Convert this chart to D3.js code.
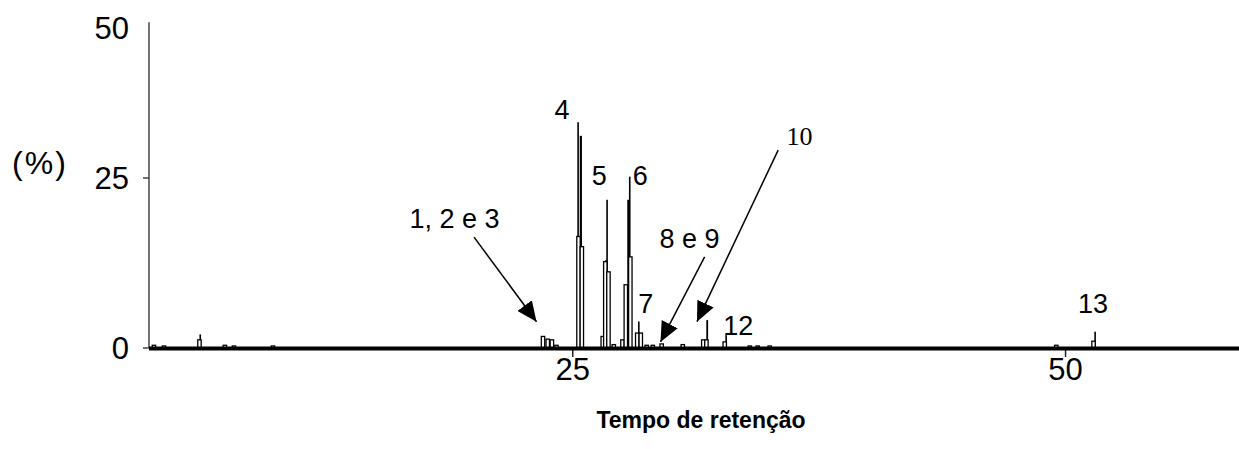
<!DOCTYPE html>
<html><head><meta charset="utf-8">
<script src="https://cdn.jsdelivr.net/npm/d3@7"></script>
<style>html,body{margin:0;padding:0;background:#fff}svg{display:block}</style>
</head><body><svg id="c" width="1239" height="449"></svg>
<script>
// ---- data ----
const xTicks = [25, 50];
const yTicks = [0, 25, 50];
const yAxisLabel = "(%)";
const xAxisLabel = "Tempo de retenção";
// outlined bars of the chromatogram (retention time, %)
const barTimes  = [3.75, 4.26, 6.06, 7.35, 7.81, 9.79,
  23.49, 23.73, 23.94, 24.17,
  25.29, 25.46,
  26.52, 26.65, 26.81, 27.08,
  27.52, 27.69, 27.92,
  28.27, 28.45, 28.75, 29.06, 29.51, 30.58,
  31.62, 31.78, 32.71, 33.98, 34.38, 34.99,
  49.53, 51.42];
const barValues = [0.4, 0.3, 1.2, 0.4, 0.3, 0.3,
  1.7, 1.3, 1.2, 0.4,
  16.4, 14.9,
  1.7, 12.7, 11.2, 0.5,
  1.2, 9.3, 13.4,
  2.2, 2.2, 0.4, 0.4, 0.6, 0.5,
  1.2, 1.2, 0.9, 0.3, 0.3, 0.3,
  0.4, 1.0];
// narrow dark spikes (peak apexes)
const spikeTimes  = [6.1, 25.27, 25.41, 26.74, 26.69, 27.83, 27.89, 28.35, 31.82, 32.78, 51.5];
const spikeValues = [2.0, 33.2, 31.2, 21.8, 12.9, 21.8, 25.2, 3.9, 4.1, 1.9, 2.4];
const spikeWidths = [1.6, 1.6, 2.2, 1.6, 2.2, 2.6, 1.6, 1.6, 1.8, 1.6, 1.6];
// peak labels
const peakLabels = ["4", "5", "6", "7", "8 e 9", "12", "13", "1, 2 e 3", "10"];
const peakLabelT = [24.45, 26.34, 28.42, 28.7, 30.92, 33.39, 51.39, 19.0, 36.5];
const peakLabelV = [33.7, 23.9, 23.9, 5.2, 14.7, 1.9, 5.2, 17.6, 29.9];

// ---- scales ----
const svg = d3.select("#c");
const x = d3.scaleLinear().domain([3.5, 58.8]).range([149, 1239]);
const y = d3.scaleLinear().domain([0, 25]).range([348, 178]);
const yTop = 47.9;
const font = "'Liberation Sans', Arial, Helvetica, sans-serif";

// ---- y axis ----
svg.append("line").attr("x1", x(3.5)).attr("x2", x(3.5))
  .attr("y1", y(yTop)).attr("y2", y(0)).attr("stroke", "#444").attr("stroke-width", 1.5);
yTicks.forEach(v => {
  if (v < yTop) svg.append("line").attr("x1", x(3.5) - 6).attr("x2", x(3.5))
    .attr("y1", y(v)).attr("y2", y(v)).attr("stroke", "#444").attr("stroke-width", 1.5);
  const ty = Math.max(y(v), y(yTop) + 5.5);
  svg.append("text").attr("x", 129).attr("y", ty).attr("dy", "0.36em")
    .attr("text-anchor", "end").attr("font-family", font).attr("font-size", 31)
    .text(v);
});
svg.append("text").attr("x", 40).attr("y", 174).attr("text-anchor", "middle")
  .attr("font-family", font).attr("font-size", 32).attr("letter-spacing", 2).text(yAxisLabel);

// ---- x axis ticks ----
xTicks.forEach(t => {
  svg.append("line").attr("x1", x(t)).attr("x2", x(t)).attr("y1", y(0)).attr("y2", y(0) + 9)
    .attr("stroke", "#222").attr("stroke-width", 1.5);
  svg.append("text").attr("x", x(t)).attr("y", 380).attr("text-anchor", "middle")
    .attr("font-family", font).attr("font-size", 31).text(t);
});
svg.append("text").attr("x", 701).attr("y", 428).attr("text-anchor", "middle")
  .attr("font-family", font).attr("font-size", 23).attr("font-weight", "bold").text(xAxisLabel);

// ---- spikes ----
svg.append("g").selectAll("rect").data(spikeTimes).join("rect")
  .attr("x", (t, i) => x(t) - spikeWidths[i] / 2)
  .attr("width", (t, i) => spikeWidths[i])
  .attr("y", (t, i) => y(spikeValues[i]))
  .attr("height", (t, i) => y(0) - y(spikeValues[i]))
  .attr("fill", "#000");

// ---- bars ----
const bw = 3.4;
svg.append("g").selectAll("rect").data(barTimes).join("rect")
  .attr("x", t => x(t) - bw / 2).attr("width", bw)
  .attr("y", (t, i) => y(barValues[i]))
  .attr("height", (t, i) => y(0) - y(barValues[i]))
  .attr("fill", "#fff").attr("stroke", "#000").attr("stroke-width", 1.3);

// ---- baseline ----
svg.append("line").attr("x1", x(3.5)).attr("x2", x(58.8)).attr("y1", y(0) + 0.5).attr("y2", y(0) + 0.5)
  .attr("stroke", "#000").attr("stroke-width", 4);

// ---- peak labels ----
peakLabels.forEach((s, i) => {
  svg.append("text").attr("x", x(peakLabelT[i])).attr("y", y(peakLabelV[i]))
    .attr("text-anchor", "middle")
    .attr("font-family", s === "10" ? "'Liberation Serif', 'Times New Roman', serif" : font)
    .attr("font-size", s === "10" ? 26 : 27).text(s);
});

// ---- arrows ----
svg.append("defs").append("marker").attr("id", "ah")
  .attr("viewBox", "0 0 20 18").attr("refX", 20).attr("refY", 9)
  .attr("markerWidth", 20).attr("markerHeight", 18).attr("markerUnits", "userSpaceOnUse")
  .attr("orient", "auto")
  .append("path").attr("d", "M0,0 L20,9 L0,18 Z").attr("fill", "#000");
const arrows = [
  [[19.99, 16.3], [23.16, 3.87]],
  [[31.69, 13.4], [29.45, 0.9]],
  [[35.42, 29.1], [31.3, 3.87]]
];
arrows.forEach(a => {
  svg.append("line").attr("x1", x(a[0][0])).attr("y1", y(a[0][1]))
    .attr("x2", x(a[1][0])).attr("y2", y(a[1][1]))
    .attr("stroke", "#000").attr("stroke-width", 1.5).attr("marker-end", "url(#ah)");
});
</script></body></html>
